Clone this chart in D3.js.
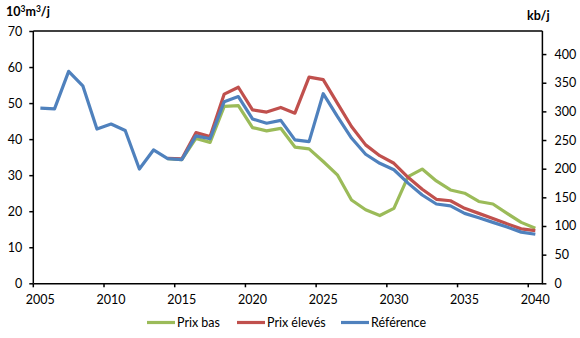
<!DOCTYPE html>
<html><head><meta charset="utf-8">
<script src="https://cdn.jsdelivr.net/npm/d3@7"></script>
<style>
body{margin:0;background:#fff}
text{font-family:Lato,"Open Sans",sans-serif;fill:#000}
</style></head>
<body><svg id="c" width="580" height="338"></svg>
<script>
const years = [2005,2006,2007,2008,2009,2010,2011,2012,2013,2014,2015,2016,2017,2018,2019,2020,2021,2022,2023,2024,2025,2026,2027,2028,2029,2030,2031,2032,2033,2034,2035,2036,2037,2038,2039,2040];
// scenarios share the historical series; they are drawn from 2014 on (null = same as Référence)
const prixBas = [null,null,null,null,null,null,null,null,null,34.6,34.3,40.2,39.1,49.1,49.3,43.2,42.3,43.0,37.8,37.3,33.8,30.1,23.1,20.4,18.8,20.8,29.6,31.7,28.4,25.9,25.0,22.7,22.0,19.4,16.9,15.3];
const prixEleves = [null,null,null,null,null,null,null,null,null,34.7,34.5,41.8,40.7,52.5,54.4,48.1,47.5,48.8,47.2,57.2,56.5,50.0,43.5,38.4,35.4,33.3,29.4,26.1,23.3,22.9,20.8,19.4,18.0,16.5,15.1,14.6];
const reference = [48.6,48.4,58.8,54.8,42.8,44.2,42.4,31.7,37.0,34.6,34.3,40.9,40.1,50.4,51.8,45.6,44.4,45.2,39.8,39.3,52.6,46.3,40.3,35.8,33.3,31.5,27.8,24.5,22.0,21.5,19.4,18.2,16.9,15.6,14.2,13.6];
const yearTicks = [2005,2010,2015,2020,2025,2030,2035,2040];
const leftTicks = [0,10,20,30,40,50,60,70];
const rightTicks = [0,50,100,150,200,250,300,350,400];
const seriesNames = ["Prix bas","Prix élevés","Référence"];
const seriesColors = ["#9BBB59","#C0504D","#4F81BD"];
const seriesData = [prixBas, prixEleves, reference];
const leftMax = 70, kbPerKm3 = 1/0.159;

const svg = d3.select("#c");
const L = 33.3, R = 542.4, T = 31, B = 283.3;

const x = d3.scaleBand().domain(years).range([L, R]).padding(0);
const bw = x.bandwidth();
const yL = d3.scaleLinear().domain([0, leftMax]).range([B, T]);
const yR = d3.scaleLinear().domain([0, leftMax*kbPerKm3]).range([B, T]);

svg.append("line").attr("x1",L).attr("x2",R).attr("y1",T).attr("y2",T).attr("stroke","#000").attr("stroke-width",1.5);

const gl = svg.append("g").attr("transform",`translate(${L},0)`)
  .call(d3.axisLeft(yL).tickValues(leftTicks).tickSize(4).tickPadding(7));
const gr = svg.append("g").attr("transform",`translate(${R},0)`)
  .call(d3.axisRight(yR).tickValues(rightTicks).tickSize(4).tickPadding(8));
const gb = svg.append("g").attr("transform",`translate(0,${B})`)
  .call(d3.axisBottom(x).tickValues(yearTicks).tickSize(4).tickPadding(8).tickSizeOuter(0));
gb.selectAll(".tick line").attr("x1",-bw/2).attr("x2",-bw/2);

[gl,gr,gb].forEach(g=>{
  g.select(".domain").attr("stroke","#000").attr("stroke-width",1.5);
  g.selectAll(".tick line").attr("stroke","#000").attr("stroke-width",1.5);
  g.selectAll(".tick text").attr("font-size",12.5).style("font-family","Lato, 'Open Sans', sans-serif");
});
gr.select(".domain").attr("d",`M0,${B}V${T}`);
gl.select(".domain").attr("d",`M0,${B}V${T}`);

const line = d3.line().defined(d=>d!=null).x((d,i)=>x(years[i])+bw/2).y(d=>yL(d));
seriesData.forEach((s,k)=>{
  svg.append("path").datum(s).attr("d",line).attr("fill","none")
    .attr("stroke",seriesColors[k]).attr("stroke-width",3.2).attr("stroke-linejoin","round");
});

const t1 = svg.append("text").attr("x",6).attr("y",16).attr("font-size",12.5).attr("font-weight","bold");
t1.append("tspan").text("10");
t1.append("tspan").attr("font-size",8.5).attr("dy",-4).text("3");
t1.append("tspan").attr("dy",4).text("m");
t1.append("tspan").attr("font-size",8.5).attr("dy",-4).text("3");
t1.append("tspan").attr("dy",4).text("/j");
svg.append("text").attr("x",527).attr("y",20).attr("font-size",12.5).attr("font-weight","bold").text("kb/j");

const legX = [147, 237, 341];
const lg = svg.append("g");
seriesNames.forEach((n,k)=>{
  lg.append("line").attr("x1",legX[k]).attr("x2",legX[k]+28).attr("y1",322.5).attr("y2",322.5)
    .attr("stroke",seriesColors[k]).attr("stroke-width",3.2);
  lg.append("text").attr("x",legX[k]+30).attr("y",327).attr("font-size",12.5).text(n);
});
</script></body></html>
